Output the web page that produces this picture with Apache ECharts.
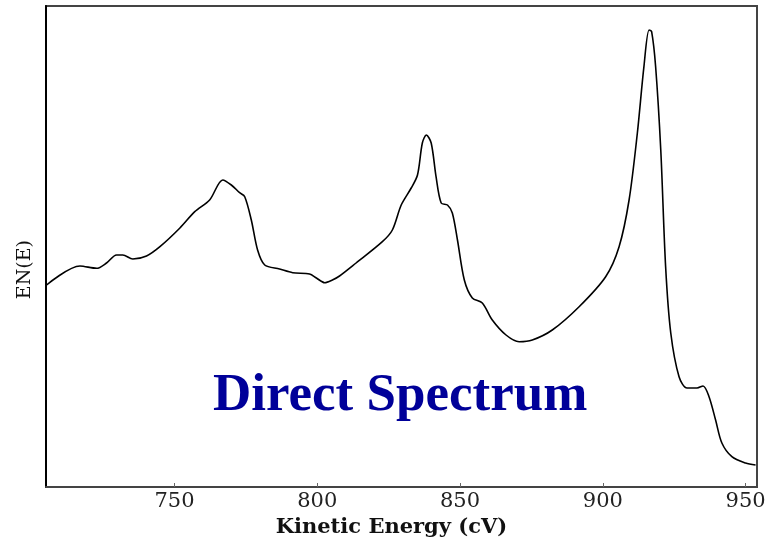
<!DOCTYPE html>
<html lang="en">

<head>
    <meta charset="UTF-8">
    <title>Direct Spectrum</title>
    <style>
        html, body { margin: 0; padding: 0; background: #fff; }
    </style>
</head>

<body>
    <div id="main" style="width: 771px; height: 540px"></div>
    <script src="https://cdn.jsdelivr.net/npm/echarts@6/dist/echarts.min.js"></script>
    <script type="text/javascript">
        // kinetic energy (eV) and E N(E) in arbitrary units
        var energy = [705.2, 716.9, 722.7, 726.2, 729.7, 731.9, 735.4, 740.2, 744.9, 751.9,
            757.1, 762.3, 766.9, 769.9, 772.8, 774.6, 776.9, 779.1, 781.6, 786.8,
            791.4, 797.3, 799.7, 802.6, 805.3, 807.8, 813.6, 822.8, 826.3, 829.4,
            832.9, 835.1, 836.8, 838.2, 839.9, 841.6, 843.4, 845.6, 847.3, 849.1,
            851.5, 854.3, 857.8, 861.3, 866.1, 870.7, 875.3, 882.3, 891.7, 901.0,
            905.7, 909.2, 912.1, 914.4, 916.2, 917.1, 918.5, 920.3, 922.0, 923.8,
            926.7, 929.5, 933.0, 935.1, 937.2, 939.5, 941.7, 945.2, 950.0, 953.5];
        var intensity = [202, 221, 218.7, 224, 232, 232, 228, 231, 240.3, 259,
            275.3, 287, 307, 302, 294.3, 290.3, 267, 237, 222, 218,
            214.3, 213, 209, 204.3, 207, 211, 224, 245.3, 257, 282,
            299, 312, 344, 352, 344, 310.3, 284, 282, 274, 247,
            207, 189, 184, 167, 152, 145.3, 147, 157, 180.3, 210.3,
            240.3, 287, 354, 420.3, 457, 455.3, 420.3, 337, 220.3, 154,
            110.3, 99, 99, 101, 90.3, 67, 44, 30.3, 24, 22];
        var tickVals = [750, 800, 850, 900, 950];

        var points = [];
        for (var i = 0; i < energy.length; i++) {
            points.push([energy[i], intensity[i]]);
        }

        var myChart = echarts.init(document.getElementById('main'));
        var option = {
            animation: false,
            grid: {
                left: 46,
                right: 14,
                top: 6,
                bottom: 53,
                outerBoundsMode: 'none',
                show: true,
                borderColor: '#444',
                borderWidth: 2
            },
            title: {
                text: 'Direct Spectrum',
                left: 208,
                top: 365,
                textStyle: {
                    fontFamily: 'Liberation Serif',
                    fontWeight: 'bold',
                    fontSize: 53,
                    color: '#000099'
                }
            },
            graphic: [{
                type: 'text',
                left: 16,
                top: 240,
                rotation: Math.PI / 2,
                style: {
                    text: 'EN(E)',
                    font: '19px "DejaVu Serif"',
                    fill: '#111'
                }
            }],
            xAxis: {
                type: 'value',
                min: 705,
                max: 954,
                name: 'Kinetic Energy (cV)',
                nameLocation: 'middle',
                nameGap: 24,
                nameTextStyle: {
                    fontFamily: 'DejaVu Serif',
                    fontWeight: 'bold',
                    fontSize: 21,
                    color: '#111',
                    padding: [0, 20, 0, 0]
                },
                splitLine: { show: false },
                axisLine: { lineStyle: { color: '#444', width: 2 } },
                axisTick: {
                    inside: true,
                    length: 4,
                    customValues: tickVals,
                    lineStyle: { color: '#666' }
                },
                axisLabel: {
                    customValues: tickVals,
                    margin: 4,
                    fontFamily: 'DejaVu Serif',
                    fontSize: 21,
                    color: '#222'
                }
            },
            yAxis: {
                type: 'value',
                min: 0,
                max: 481,
                splitLine: { show: false },
                axisLine: { show: true, lineStyle: { color: '#000', width: 2 } },
                axisTick: { show: false },
                axisLabel: { show: false }
            },
            series: [{
                type: 'line',
                data: points,
                smooth: 0.3,
                showSymbol: false,
                lineStyle: { color: '#000', width: 1.6 }
            }]
        };
        myChart.setOption(option);
    </script>

</body>

</html>
